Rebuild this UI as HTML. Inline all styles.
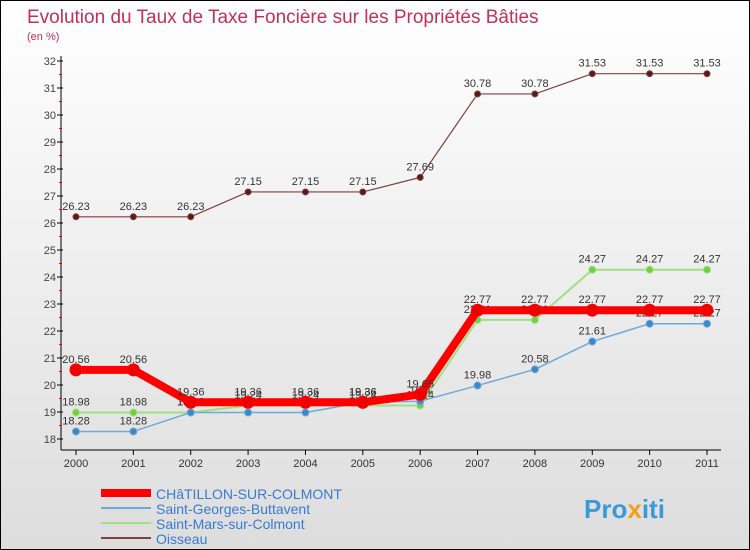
<!DOCTYPE html>
<html><head><meta charset="utf-8"><style>
body{margin:0}
#c{width:748px;height:548px;border:1px solid #000;background:linear-gradient(#fff,#ddd);position:relative;font-family:"Liberation Sans",sans-serif;overflow:hidden}
</style></head><body>
<div id="c">
<svg id="s" width="748" height="548" xmlns="http://www.w3.org/2000/svg">
<text x="26" y="22" font-size="19" fill="#c0305a">Evolution du Taux de Taxe Foncière sur les Propriétés Bâties</text>
<text x="26" y="39" font-size="11" fill="#c0305a">(en %)</text>
<g id="axes"></g><g id="series"></g><g id="legend"></g>
<text x="583" y="517" font-size="26" font-weight="bold" fill="#3a9ad8">Pro<tspan fill="#f0a020">x</tspan>iti</text>
</svg></div>
<script>
const years=[2000,2001,2002,2003,2004,2005,2006,2007,2008,2009,2010,2011];
const chatillon=[20.56,20.56,19.36,19.36,19.36,19.36,19.65,22.77,22.77,22.77,22.77,22.77];
const stGeorges=[18.28,18.28,18.98,18.98,18.98,19.36,19.4,19.98,20.58,21.61,22.27,22.27];
const stMars=[18.98,18.98,18.98,19.24,19.24,19.24,19.24,22.41,22.41,24.27,24.27,24.27];
const oisseau=[26.23,26.23,26.23,27.15,27.15,27.15,27.69,30.78,30.78,31.53,31.53,31.53];
const yTicks=[18,19,20,21,22,23,24,25,26,27,28,29,30,31,32];
const NS="http://www.w3.org/2000/svg";
const X=i=>75+i*(706-75)/11, Y=v=>438-(v-18)*27;
function mk(t,a,p){const e=document.createElementNS(NS,t);for(const k in a)e.setAttribute(k,a[k]);p.appendChild(e);return e;}
const ax=document.getElementById('axes');
let l=mk('line',{x1:60,y1:55,x2:60,y2:449,stroke:'#000'},ax);

l=mk('line',{x1:60,y1:449,x2:720,y2:449,stroke:'#000'},ax);

yTicks.forEach(v=>{mk('line',{x1:56,y1:Y(v),x2:62,y2:Y(v),stroke:'#000'},ax);
 if(v<32)mk('line',{x1:58,y1:Y(v+0.5),x2:61,y2:Y(v+0.5),stroke:'#e00'},ax);
 const t=mk('text',{x:55,y:Y(v)+4,'font-size':11,fill:'#444','text-anchor':'end'},ax);t.textContent=v;
 });
years.forEach((y,i)=>{mk('line',{x1:X(i),y1:449,x2:X(i),y2:454,stroke:'#000'},ax);
 const t=mk('text',{x:X(i),y:466,'font-size':11,fill:'#333','text-anchor':'middle'},ax);t.textContent=y;
 });
const sg=document.getElementById('series');
function series(data,color,w,r,dot,name){
 const g=mk('g',{},sg);
 mk('polyline',{points:data.map((v,i)=>X(i)+','+Y(v)).join(' '),fill:'none',stroke:color,'stroke-width':w,'stroke-linejoin':'round'},g);
 data.forEach((v,i)=>{const c=mk('circle',{cx:X(i),cy:Y(v),r:r,fill:dot,stroke:color,'stroke-width':1},g);
  
  const t=mk('text',{x:X(i),y:Y(v)-7,'font-size':11,fill:'#333','text-anchor':'middle'},g);t.textContent=v.toFixed(2).replace(/0$/,'');});
}
series(oisseau,'#804040',1.2,3,'#5a1a1a','series-oisseau');
series(stMars,'#a0e080',2,3.5,'#70d040','series-saint-mars');
series(stGeorges,'#70a8d8',1.5,3.5,'#3a88c8','series-saint-georges');
series(chatillon,'#f00',8,6,'#e00','series-chatillon');
const lg=document.getElementById('legend');
[['CHâTILLON-SUR-COLMONT','#f00',8],['Saint-Georges-Buttavent','#70a8d8',2],['Saint-Mars-sur-Colmont','#a0e080',2],['Oisseau','#804040',2]].forEach((d,i)=>{
 const y=492+i*15;
 const ln=mk('line',{x1:100,y1:y,x2:150,y2:y,stroke:d[1],'stroke-width':d[2]},lg);
 
 const t=mk('text',{x:155,y:y+6,'font-size':14,fill:'#3a7ad0'},lg);t.textContent=d[0];
 
});
</script></body></html>
